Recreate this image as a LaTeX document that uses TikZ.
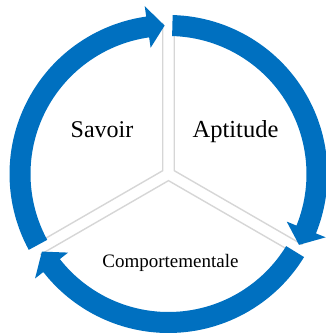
\documentclass[tikz,border=0pt]{standalone}
\usepackage{fontspec}
\setmainfont{Liberation Serif}
\usepackage{tikz}
\usetikzlibrary{positioning}
\definecolor{cycleblue}{HTML}{0070C0}
\definecolor{wedgegray}{HTML}{D6D6D6}
\tikzset{
  % ring arrows
  ringarrow/.style={fill=cycleblue,draw=none},
  % pie wedges
  wedge/.style={draw=wedgegray,line width=1.4pt,fill=white},
  lbl/.style={anchor=base,inner sep=0pt,text=black},
}

\begin{document}
\begin{tikzpicture}[x=1pt,y=1pt]
  \useasboundingbox (-168.5,-161) rectangle (157.5,174);
  % three wedges, pushed apart from the centre
  \foreach \a in {30,150,270}
    \draw[wedge] (\a:6.64) ++(\a-60:148) -- (\a:6.64) -- ++(\a+60:148);
  % the cycle: band 138..159, head 127.5..169.5
  \foreach \s [evaluate=\s as \e using \s-117,
               evaluate=\s as \b using \s-110.44] in {88.5,-31.5,-151.5}
    \fill[ringarrow] (\s:159) arc[start angle=\s,end angle=\b,radius=159]
      -- (\b:169.5) -- (\e:148.5) -- (\b:127.5) -- (\b:138)
      arc[start angle=\b,end angle=\s,radius=138] -- cycle;
  \node[lbl,font=\fontsize{24}{28}\selectfont] (savoir) at (-66.5,36.3) {Savoir};
  \node[lbl,font=\fontsize{24.5}{28}\selectfont] (aptitude) at (67,36.3) {Aptitude};
  \node[lbl,font=\fontsize{19}{22}\selectfont] (comport) at (2,-93) {Comportementale};
\end{tikzpicture}
\end{document}
